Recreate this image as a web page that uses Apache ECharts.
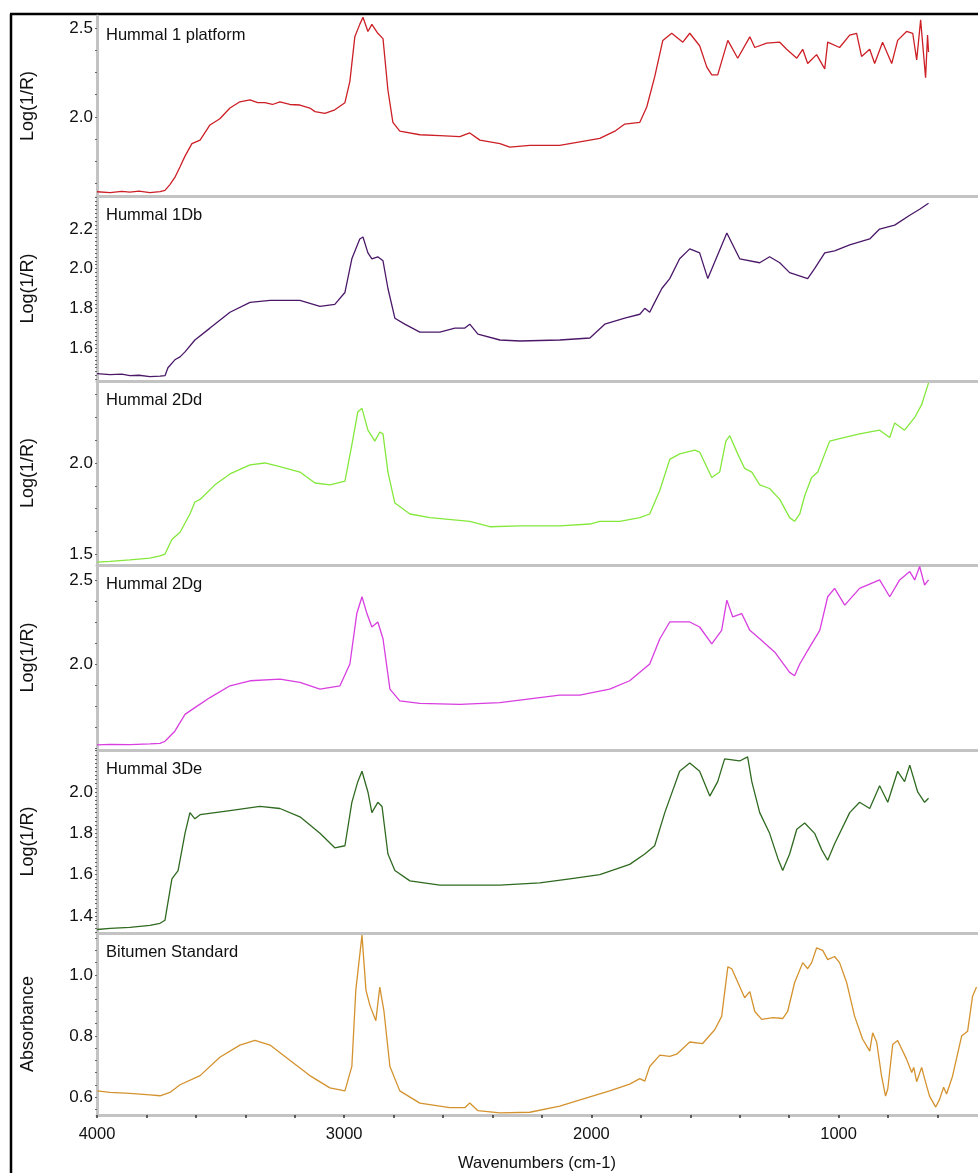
<!DOCTYPE html>
<html>
<head>
<meta charset="utf-8">
<script src="https://cdn.jsdelivr.net/npm/echarts@6/dist/echarts.min.js"></script>
<style>
html,body{margin:0;padding:0;background:#fff;}
#chart{width:978px;height:1173px;}
</style>
</head>
<body>
<div id="chart"></div>
<script>
// ---------- DATA ----------
var panelTitles = ['Hummal 1 platform','Hummal 1Db','Hummal 2Dd','Hummal 2Dg','Hummal 3De','Bitumen Standard'];
var yNames = ['Log(1/R)','Log(1/R)','Log(1/R)','Log(1/R)','Log(1/R)','Absorbance'];
var xTickLabels = [1000,2000,3000,4000];

var wn1 = [4000,3947,3900,3867,3830,3786,3745,3725,3705,3685,3664,3644,3616,3583,3543,3503,3462,3422,3381,3350,3321,3290,3260,3220,3179,3139,3118,3078,3038,2997,2977,2957,2937,2924,2904,2888,2864,2843,2823,2803,2775,2694,2613,2532,2492,2451,2370,2330,2249,2128,2047,1966,1905,1865,1804,1776,1744,1711,1675,1630,1602,1562,1533,1513,1489,1448,1408,1359,1339,1291,1238,1210,1169,1145,1125,1089,1056,1044,996,955,927,907,874,854,822,785,761,725,700,684,668,648,640,636];
var val1 = [1.580,1.575,1.582,1.578,1.583,1.575,1.580,1.588,1.620,1.660,1.720,1.780,1.850,1.870,1.955,1.990,2.050,2.085,2.096,2.080,2.080,2.070,2.085,2.070,2.067,2.050,2.030,2.020,2.040,2.080,2.200,2.450,2.520,2.560,2.480,2.520,2.470,2.440,2.150,1.970,1.920,1.900,1.895,1.890,1.910,1.870,1.850,1.830,1.840,1.840,1.860,1.880,1.920,1.960,1.970,2.056,2.225,2.430,2.470,2.420,2.470,2.400,2.280,2.236,2.236,2.430,2.330,2.450,2.390,2.415,2.420,2.380,2.330,2.380,2.300,2.350,2.270,2.420,2.390,2.460,2.470,2.340,2.380,2.300,2.420,2.300,2.430,2.480,2.470,2.320,2.545,2.220,2.460,2.365];

var wn2 = [4000,3947,3900,3867,3830,3786,3745,3725,3713,3685,3664,3644,3604,3543,3462,3381,3300,3260,3179,3098,3038,2997,2969,2937,2924,2904,2888,2864,2843,2823,2795,2755,2694,2613,2552,2512,2492,2459,2370,2289,2128,2006,1946,1865,1804,1784,1764,1744,1715,1683,1643,1602,1562,1529,1452,1400,1319,1279,1238,1198,1125,1097,1056,1016,955,874,834,773,712,672,636];
var val2 = [1.470,1.465,1.468,1.460,1.462,1.455,1.458,1.460,1.500,1.540,1.555,1.580,1.640,1.700,1.780,1.830,1.840,1.840,1.840,1.810,1.820,1.880,2.050,2.150,2.160,2.080,2.050,2.060,2.040,1.900,1.750,1.720,1.680,1.680,1.700,1.700,1.720,1.670,1.640,1.635,1.640,1.650,1.720,1.750,1.770,1.800,1.780,1.830,1.900,1.950,2.050,2.100,2.080,1.950,2.180,2.050,2.030,2.060,2.030,1.980,1.950,2.000,2.080,2.090,2.120,2.150,2.200,2.220,2.270,2.300,2.330];

var wn3 = [4000,3947,3867,3786,3745,3725,3697,3664,3624,3604,3583,3523,3462,3381,3321,3260,3179,3118,3058,2997,2969,2945,2928,2904,2876,2856,2843,2823,2795,2734,2653,2492,2411,2289,2128,2006,1966,1885,1804,1764,1723,1683,1643,1582,1562,1513,1481,1456,1440,1408,1380,1351,1319,1279,1238,1198,1178,1157,1137,1109,1084,1056,1036,975,915,834,793,773,733,692,664,636];
var val3 = [1.456,1.460,1.468,1.478,1.490,1.500,1.580,1.620,1.720,1.786,1.800,1.880,1.940,1.990,2.000,1.980,1.950,1.890,1.880,1.900,2.100,2.280,2.300,2.180,2.120,2.170,2.160,1.950,1.780,1.720,1.700,1.680,1.650,1.655,1.655,1.665,1.680,1.680,1.700,1.720,1.850,2.020,2.050,2.070,2.060,1.920,1.950,2.120,2.150,2.050,1.970,1.950,1.880,1.860,1.800,1.700,1.680,1.720,1.820,1.920,1.950,2.050,2.120,2.140,2.160,2.180,2.140,2.220,2.180,2.250,2.320,2.440];

var wn4 = [4000,3947,3867,3786,3745,3725,3685,3644,3604,3543,3462,3381,3260,3179,3098,3017,2977,2949,2928,2908,2888,2864,2843,2815,2775,2694,2532,2370,2209,2128,2047,1926,1845,1764,1723,1683,1602,1562,1513,1473,1452,1428,1392,1359,1319,1258,1198,1178,1157,1117,1076,1044,1016,975,915,834,793,753,712,692,672,652,636];
var val4 = [1.518,1.522,1.520,1.525,1.528,1.540,1.600,1.700,1.740,1.800,1.870,1.900,1.910,1.890,1.850,1.870,2.000,2.300,2.400,2.300,2.220,2.250,2.150,1.850,1.780,1.765,1.760,1.770,1.800,1.815,1.815,1.850,1.900,2.000,2.150,2.250,2.250,2.220,2.120,2.200,2.380,2.280,2.300,2.200,2.150,2.070,1.950,1.930,2.000,2.100,2.200,2.400,2.450,2.350,2.450,2.500,2.400,2.500,2.550,2.500,2.580,2.470,2.500];

var wn5 = [4000,3947,3867,3786,3745,3725,3697,3672,3644,3624,3604,3583,3462,3341,3260,3179,3098,3038,2997,2969,2945,2928,2904,2888,2864,2847,2823,2795,2734,2613,2370,2209,2087,1966,1845,1784,1744,1703,1643,1602,1562,1521,1489,1461,1400,1368,1351,1319,1279,1246,1226,1198,1169,1137,1097,1068,1044,1016,955,915,874,834,801,761,733,712,680,652,636];
var val5 = [1.335,1.340,1.345,1.355,1.365,1.380,1.580,1.620,1.800,1.900,1.870,1.890,1.910,1.930,1.920,1.880,1.800,1.730,1.740,1.950,2.050,2.100,2.000,1.900,1.950,1.930,1.700,1.620,1.570,1.550,1.550,1.560,1.580,1.600,1.650,1.700,1.740,1.900,2.100,2.140,2.100,1.980,2.050,2.160,2.150,2.170,2.050,1.900,1.800,1.680,1.620,1.700,1.820,1.850,1.800,1.720,1.670,1.750,1.900,1.950,1.920,2.030,1.950,2.100,2.050,2.130,2.000,1.950,1.970];

var wn6 = [4000,3947,3867,3786,3745,3705,3664,3583,3503,3422,3361,3300,3220,3139,3058,2997,2969,2953,2928,2912,2896,2872,2856,2839,2815,2775,2694,2573,2512,2492,2459,2370,2249,2128,2006,1926,1845,1804,1784,1764,1723,1683,1655,1602,1550,1501,1473,1448,1432,1380,1359,1339,1311,1266,1226,1206,1178,1145,1125,1109,1089,1064,1044,1016,996,967,935,903,874,862,846,826,810,801,781,761,725,704,696,684,664,652,632,607,591,575,563,539,502,478,458,442];
var val6 = [0.620,0.615,0.612,0.607,0.604,0.615,0.640,0.670,0.730,0.770,0.785,0.770,0.720,0.670,0.630,0.620,0.700,0.950,1.130,0.950,0.900,0.850,0.960,0.880,0.700,0.620,0.580,0.565,0.565,0.580,0.555,0.548,0.550,0.570,0.600,0.620,0.642,0.660,0.652,0.700,0.737,0.733,0.740,0.780,0.775,0.820,0.864,1.026,1.020,0.925,0.945,0.880,0.854,0.860,0.857,0.880,0.974,1.040,1.020,1.040,1.088,1.080,1.050,1.060,1.040,0.974,0.864,0.790,0.750,0.810,0.780,0.668,0.603,0.626,0.772,0.785,0.724,0.680,0.697,0.650,0.697,0.660,0.603,0.567,0.593,0.632,0.610,0.668,0.800,0.815,0.930,0.960];

var yMajor = [[2.0,2.5],[1.6,1.8,2.0,2.2],[1.5,2.0],[2.0,2.5],[1.4,1.6,1.8,2.0],[0.6,0.8,1.0]];
var yRange = [[1.556,2.567],[1.433,2.367],[1.44,2.45],[1.488,2.589],[1.318,2.203],[0.541,1.137]];
var yMinorStep = [0.125,0.02,0.125,0.125,0.02,0.04];
var colors = ['#cc1f26','#4b1869','#84e83c','#d83ee0','#2f6a20','#d4922e'];

// ---------- LAYOUT ----------
var FONT = 'Liberation Sans, Arial, sans-serif';
var tops = [16,196,381,565,750,933];
var bottoms = [196,381,565,750,933,1116];
var wns = [wn1,wn2,wn3,wn4,wn5,wn6];
var vals = [val1,val2,val3,val4,val5,val6];

function minorTicks(lo, hi, step, anchor){
  var out = [];
  var k0 = Math.ceil((lo - anchor)/step - 1e-9);
  for (var k = k0; anchor + k*step <= hi + 1e-9; k++) out.push(+(anchor + k*step).toFixed(4));
  return out;
}
var xMinor = [];
for (var w = 600; w <= 4000; w += 200) xMinor.push(w);

var grids = [], xAxes = [], yAxes = [], series = [], titles = [];
for (var i = 0; i < 6; i++) {
  grids.push({left:97, right:1, top:tops[i], height:bottoms[i]-tops[i]});
  var last = (i === 5);
  xAxes.push({
    type:'value', gridIndex:i, min:440, max:4000, inverse:true,
    axisLine:{show:true, onZero:false, lineStyle:{color:'#c3c3c3', width:3}},
    axisTick:{show:last, customValues:xMinor, length:3, lineStyle:{color:'#333', width:1.5}},
    axisLabel:{show:last, customValues:xTickLabels, margin:11, fontSize:16.5, color:'#111', fontFamily:FONT,
      formatter:function(v){return String(Math.round(v));}},
    splitLine:{show:false},
    name: last ? 'Wavenumbers (cm-1)' : '', nameLocation:'middle', nameGap:40,
    nameTextStyle:{fontSize:16.5, color:'#111', fontFamily:FONT}
  });
  yAxes.push({
    type:'value', gridIndex:i, min:yRange[i][0], max:yRange[i][1],
    axisLine:{show:true, lineStyle:{color:'#c3c3c3', width:3}},
    axisTick:{show:true, customValues:minorTicks(yRange[i][0], yRange[i][1], yMinorStep[i], yMajor[i][0]), length:2, lineStyle:{color:'#666', width:1}},
    axisLabel:{show:true, customValues:yMajor[i], margin:4, fontSize:17, color:'#111', fontFamily:FONT,
      formatter:function(v){return v.toFixed(1);}},
    splitLine:{show:false},
    name:yNames[i], nameLocation:'middle', nameGap:60, nameRotate:90,
    nameTextStyle:{fontSize:18, color:'#111', fontFamily:FONT}
  });
  var d = [];
  for (var j = 0; j < wns[i].length; j++) d.push([wns[i][j], vals[i][j]]);
  series.push({
    type:'line', xAxisIndex:i, yAxisIndex:i, data:d, showSymbol:false, symbol:'none',
    lineStyle:{color:colors[i], width:1.3}, animation:false, clip:true
  });
  titles.push({text:panelTitles[i], left:101, top:tops[i]+6,
    textStyle:{fontSize:16.5, fontWeight:'normal', color:'#111', fontFamily:FONT}});
}

var chart = echarts.init(document.getElementById('chart'), null, {renderer:'canvas'});
chart.setOption({
  backgroundColor:'#fff',
  animation:false,
  title:titles,
  grid:grids, xAxis:xAxes, yAxis:yAxes, series:series,
  graphic:[
    {type:'line', shape:{x1:10, y1:14, x2:978, y2:14}, style:{stroke:'#000', lineWidth:2.5}},
    {type:'line', shape:{x1:11, y1:14, x2:11, y2:1173}, style:{stroke:'#000', lineWidth:2.5}}
  ]
});
</script>
</body>
</html>
